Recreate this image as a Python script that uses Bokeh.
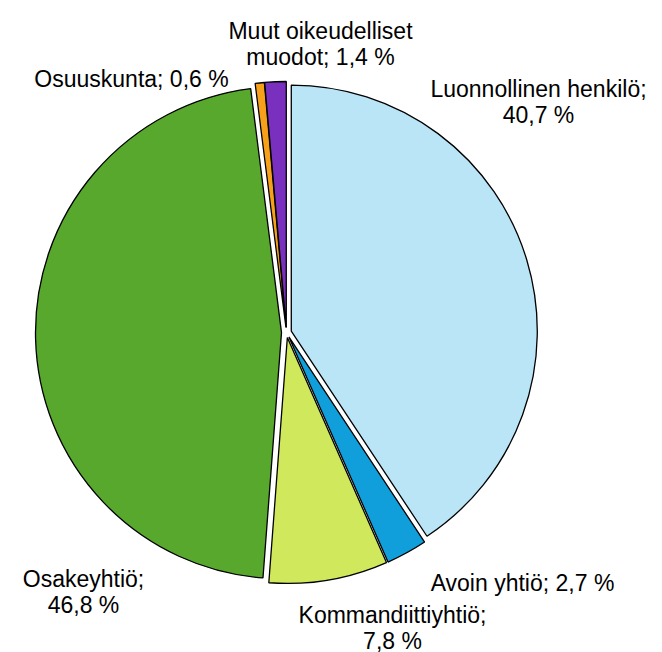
import math
from bokeh.plotting import figure
from bokeh.models import Range1d, ColumnDataSource
from bokeh.core.properties import value
from bokeh.embed import file_html
from bokeh.resources import INLINE

# ---- data ----
categories = ["Luonnollinen henkilö", "Avoin yhtiö", "Kommandiittiyhtiö",
              "Osakeyhtiö", "Osuuskunta", "Muut oikeudelliset muodot"]
shares = [40.7, 2.7, 7.8, 46.8, 0.6, 1.4]

# ---- styles / layout ----
colors = ["#B9E5F7", "#109FDA", "#D0E85C", "#57A82D", "#F7A11A", "#7A30BE"]
words_on_first_line = [2, 99, 1, 1, 99, 2]
label_anchor_px = [(538, 88), (522, 582), (392, 614), (83, 578), (131, 78), (320, 30)]
line_gap = 26

W, H = 662, 652
CX, CY = 286, H - 332
R = 246
EXPLODE = 5

p = figure(width=W, height=H, output_backend="svg", toolbar_location=None,
           x_range=Range1d(0, W), y_range=Range1d(0, H),
           x_axis_location=None, y_axis_location=None, min_border=0)
p.grid.visible = False
p.outline_line_color = None
p.background_fill_color = "white"
p.border_fill_color = "white"

total = sum(shares)
xs, ys, starts, ends = [], [], [], []
cum = 0.0
for s in shares:
    a0 = cum / total
    cum += s
    a1 = cum / total
    start = math.radians(90 - a0 * 360)
    end = math.radians(90 - a1 * 360)
    mid = (start + end) / 2
    xs.append(CX + EXPLODE * math.cos(mid))
    ys.append(CY + EXPLODE * math.sin(mid))
    starts.append(start)
    ends.append(end)

src = ColumnDataSource(dict(x=xs, y=ys, start=starts, end=ends, color=colors))
p.wedge(x="x", y="y", radius=R, start_angle="start", end_angle="end",
        direction="clock", fill_color="color",
        line_color="black", line_width=1.3, source=src)

tx, ty, tt = [], [], []
for cat, s, n, (ax, ay) in zip(categories, shares, words_on_first_line, label_anchor_px):
    full = f"{cat}; " + f"{s:.1f}".replace(".", ",") + " %"
    words = full.split(" ")
    lines = [" ".join(words[:n])]
    if n < len(words):
        lines.append(" ".join(words[n:]))
    for i, ln in enumerate(lines):
        tx.append(ax)
        ty.append(H - (ay + i * line_gap))
        tt.append(ln)

p.text(x=tx, y=ty, text=tt, text_align="center", text_baseline="alphabetic",
       text_font=value("Liberation Sans"), text_font_size="23px", text_color="black")

open("out.html", "w").write(file_html(p, INLINE))
